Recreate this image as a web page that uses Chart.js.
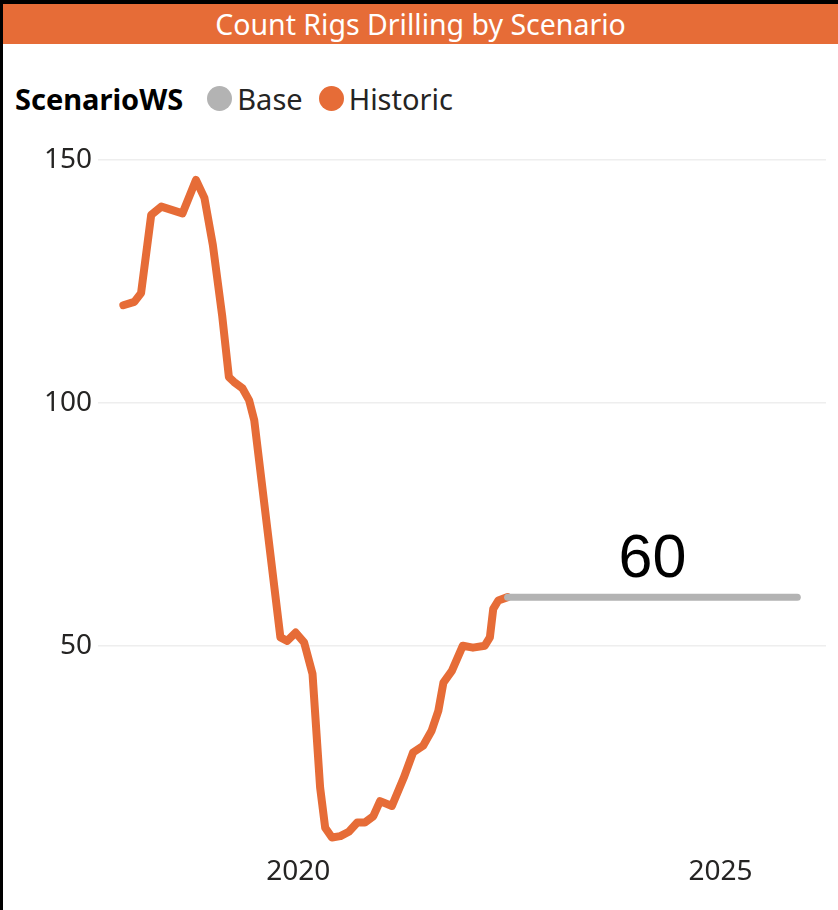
<!DOCTYPE html>
<html>
<head>
<meta charset="utf-8">
<script src="https://cdn.jsdelivr.net/npm/chart.js@4"></script>
<style>
    body { margin: 0; background: #fff; }
    #frame {
        position: relative;
        width: 838px;
        height: 910px;
        box-sizing: border-box;
        border-left: 3px solid #000;
        border-top: 4px solid #000;
        overflow: hidden;
        font-family: "Segoe UI", "Noto Sans", sans-serif;
    }
    #title {
        height: 40px;
        line-height: 40px;
        background: #E66C37;
        color: #fff;
        text-align: center;
        font-size: 28.5px;
    }
    #legend {
        position: absolute;
        left: 12px;
        top: 75px;
        display: flex;
        align-items: center;
        font-size: 29px;
        color: #252423;
    }
    #legend .head { font-weight: bold; color: #000; margin-right: 24px; }
    #legend .dot {
        width: 25px; height: 25px; border-radius: 50%;
        display: inline-block; margin-right: 5px;
    }
    #legend .item { display: flex; align-items: center; margin-right: 16px; }
    #chartWrap { position: absolute; left: -3px; top: 126px; }
</style>
</head>
<body>
<div id="frame">
    <div id="title">Count Rigs Drilling by Scenario</div>
    <div id="legend"></div>
    <div id="chartWrap"><canvas id="rigChart" width="838" height="780"></canvas></div>
</div>
<script>
// Rig counts by date (decimal years)
const historicDates = [
    2017.93, 2018.06, 2018.14, 2018.26, 2018.38, 2018.63, 2018.79, 2018.89,
    2018.99, 2019.10, 2019.18, 2019.24, 2019.34, 2019.42, 2019.48, 2019.79,
    2019.87, 2019.97, 2020.07, 2020.17, 2020.26, 2020.32, 2020.40, 2020.50,
    2020.60, 2020.70, 2020.79, 2020.89, 2020.97, 2021.11, 2021.25, 2021.36,
    2021.48, 2021.58, 2021.66, 2021.72, 2021.82, 2021.95, 2022.07, 2022.21,
    2022.27, 2022.31, 2022.37, 2022.48
];
const historicRigs = [
    120.1, 120.8, 122.6, 138.7, 140.4, 139.0, 145.9, 142.2,
    132.5, 118.0, 105.3, 104.3, 103.0, 100.5, 96.4, 51.7,
    51.0, 52.7, 50.7, 44.2, 20.8, 12.5, 10.5, 10.8,
    11.7, 13.6, 13.6, 14.9, 18.0, 17.0, 22.8, 28.0,
    29.4, 32.5, 36.6, 42.4, 44.8, 50.0, 49.6, 50.0,
    51.7, 57.6, 59.3, 60
];
const baseDates = [2022.48, 2025.91];
const baseRigs = [60, 60];

const xTicks = [2020, 2025];
const yTicks = [50, 100, 150];

const seriesNames = ['Base', 'Historic'];
const seriesColors = ['#B3B3B3', '#E66C37'];

function toPoints(xs, ys) {
    return xs.map((x, i) => ({ x: x, y: ys[i] }));
}

// Legend row
const legend = document.getElementById('legend');
legend.innerHTML = '<span class="head">ScenarioWS</span>' + seriesNames.map((name, i) =>
    `<span class="item"><span class="dot" style="background:${seriesColors[i]}"></span>${name}</span>`
).join('');

// Value label above the middle of the Base line
const baseLabel = {
    id: 'baseLabel',
    afterDatasetsDraw(chart) {
        const ctx = chart.ctx;
        const xs = chart.scales.x;
        const ys = chart.scales.y;
        const mid = (baseDates[0] + baseDates[baseDates.length - 1]) / 2;
        ctx.save();
        ctx.font = '61px "Liberation Sans", Arial, sans-serif';
        ctx.fillStyle = '#000';
        ctx.textAlign = 'center';
        ctx.textBaseline = 'alphabetic';
        ctx.fillText(String(baseRigs[0]), xs.getPixelForValue(mid), ys.getPixelForValue(baseRigs[0]) - 20);
        ctx.restore();
    }
};

const tickFont = { family: '"Segoe UI", "Noto Sans", sans-serif', size: 28 };

new Chart(document.getElementById('rigChart').getContext('2d'), {
    type: 'line',
    data: {
        datasets: [
            {
                label: seriesNames[0],
                data: toPoints(baseDates, baseRigs),
                borderColor: seriesColors[0],
                borderWidth: 7,
                borderCapStyle: 'round',
                borderJoinStyle: 'round',
                pointRadius: 0
            },
            {
                label: seriesNames[1],
                data: toPoints(historicDates, historicRigs),
                borderColor: seriesColors[1],
                borderWidth: 8,
                borderCapStyle: 'round',
                borderJoinStyle: 'round',
                pointRadius: 0
            }
        ]
    },
    options: {
        responsive: false,
        animation: false,
        layout: { padding: { top: 30, right: 12, left: 0, bottom: 0 } },
        plugins: {
            legend: { display: false },
            tooltip: { enabled: false }
        },
        scales: {
            x: {
                type: 'linear',
                min: 2017.63,
                max: 2026.25,
                afterBuildTicks: scale => { scale.ticks = xTicks.map(v => ({ value: v })); },
                afterFit: scale => { scale.height = 64; },
                grid: { display: false, drawTicks: false },
                border: { display: false },
                ticks: {
                    font: tickFont,
                    color: '#252423',
                    padding: 9,
                    maxRotation: 0,
                    callback: v => String(v)
                }
            },
            y: {
                min: 8.76,
                max: 150,
                afterBuildTicks: scale => { scale.ticks = yTicks.map(v => ({ value: v })); },
                afterFit: scale => { scale.width = 98; },
                grid: { color: '#EEEEEE', lineWidth: 1.5, drawTicks: false },
                border: { display: false },
                ticks: {
                    font: tickFont,
                    color: '#252423',
                    padding: 6,
                    callback: v => String(v)
                }
            }
        }
    },
    plugins: [baseLabel]
});
</script>
</body>
</html>
